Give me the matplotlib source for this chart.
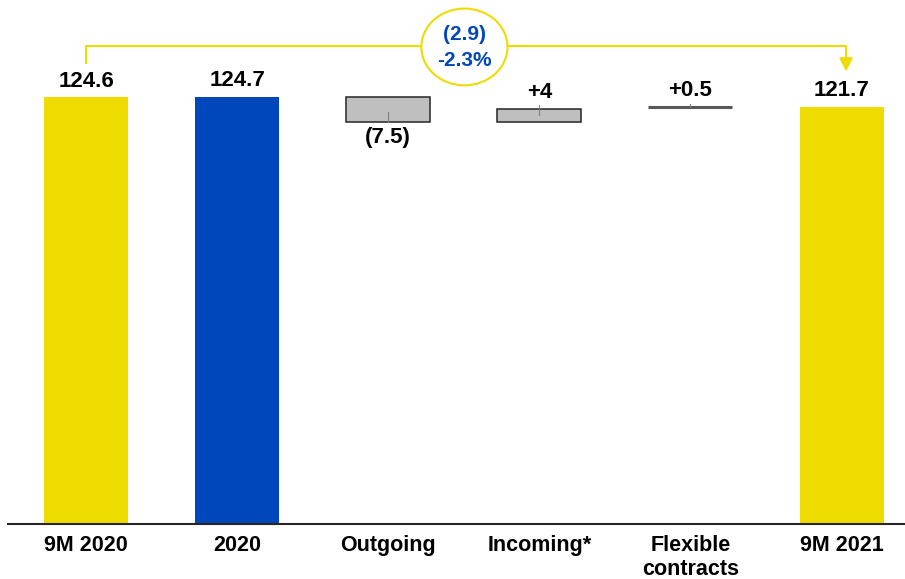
import matplotlib.pyplot as plt
from matplotlib.patches import Ellipse

plt.rcParams['font.family'] = ['Liberation Sans', 'DejaVu Sans']

categories = ['9M 2020', '2020', 'Outgoing', 'Incoming*', 'Flexible\ncontracts', '9M 2021']
start = [124.6, 124.7]
changes = [-7.5, 4.0, 0.5]
end = 121.7
labels = ['124.6', '124.7', '(7.5)', '+4', '+0.5', '121.7']
delta_text = '(2.9)\n-2.3%'

yellow = '#EEDC00'
blue = '#0047BB'
grey = '#BFBFBF'

fig = plt.figure(figsize=(9.05, 5.79), dpi=100)
ax = fig.add_axes([8 / 905, 55 / 579, 897 / 905, 524 / 579])
ax.set_xlim(-0.517, 5.42)
ax.set_ylim(0, 152.9)
w = 0.556

# totals
ax.bar(0, start[0], w, color=yellow)
ax.bar(1, start[1], w, color=blue)
ax.bar(5, end, w, color=yellow)

# floating steps
level = start[1]
for i, c in enumerate(changes):
    x = i + 2
    lo, hi = min(level, level + c), max(level, level + c)
    if abs(c) < 1:
        ax.plot([x - w / 2, x + w / 2], [level + c, level + c], color='#595959', lw=2.2,
                solid_capstyle='butt')
        ax.plot([x, x], [level + c, level + c + 0.8], color='#7f7f7f', lw=0.8)
    else:
        ax.bar(x, hi - lo, w, bottom=lo, color=grey, edgecolor='#262626', linewidth=1.1)
        if c < 0:
            ax.plot([x, x], [lo, lo + 3.0], color='#7f7f7f', lw=0.8)
        else:
            ax.plot([x, x], [lo + 2.0, hi + 1.0], color='#7f7f7f', lw=0.8)
    level += c

# value labels
tops = [start[0], start[1], start[1], start[1] + changes[0] + changes[1],
        start[1] + sum(changes), end]
for i, (t, lab) in enumerate(zip(tops, labels)):
    if i == 2:
        ax.text(i, start[1] + changes[0] - 1.3, lab, ha='center', va='top',
                fontsize=16, fontweight='bold')
    else:
        ax.text(i, t + 1.6, lab, ha='center', va='bottom', fontsize=16, fontweight='bold')

# bracket from first to last total
yb = 139.4
ax.plot([0, 0, 5.03, 5.03], [134.6, yb, yb, 135.0], color=yellow, lw=1.5, zorder=1)
ax.annotate('', xy=(5.03, 132.0), xytext=(5.03, 136.0),
            arrowprops=dict(arrowstyle='-|>,head_width=0.4,head_length=0.8',
                            color=yellow, lw=1.5, shrinkA=0, shrinkB=0))
cx = 2.504
ax.add_patch(Ellipse((cx, 139.2), 0.57, 22.4, facecolor='white', edgecolor=yellow,
                     lw=1.5, zorder=3))
ax.text(cx, 139.0, delta_text, ha='center', va='center', color=blue, fontsize=15,
        fontweight='bold', linespacing=1.45, zorder=4)

ax.set_xticks(range(len(categories)))
ax.set_xticklabels(categories, fontsize=15.5, fontweight='bold', linespacing=1.2)
ax.tick_params(axis='x', length=0, pad=8)
ax.set_yticks([])
for s in ['top', 'right', 'left']:
    ax.spines[s].set_visible(False)
ax.spines['bottom'].set_linewidth(1.5)
ax.spines['bottom'].set_color('#262626')

fig.savefig('out.png', dpi=100)
